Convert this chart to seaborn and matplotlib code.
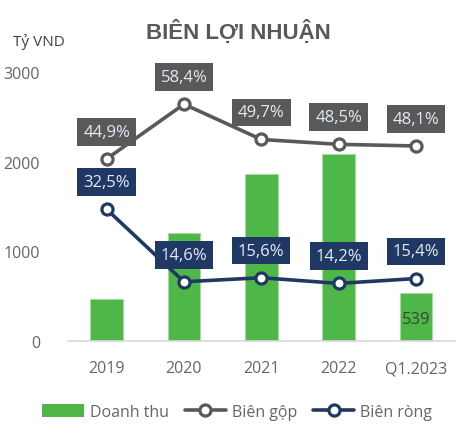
import matplotlib.pyplot as plt
import numpy as np
import pandas as pd
import seaborn as sns
from matplotlib.lines import Line2D
from matplotlib.patches import Patch

periods = ["2019", "2020", "2021", "2022", "Q1.2023"]
revenue = [470, 1200, 1860, 2090, 539]
gross_margin = [44.9, 58.4, 49.7, 48.5, 48.1]
net_margin = [32.5, 14.6, 15.6, 14.2, 15.4]

GREEN = "#4eb748"
GREY = "#595959"
NAVY = "#203864"
TEXT = "#656565"

sns.set_theme(style="white")
plt.rcParams["font.family"] = ["Open Sans", "DejaVu Sans"]

df = pd.DataFrame({
    "period": periods,
    "pos": np.arange(len(periods)),
    "revenue": revenue,
    "gross": gross_margin,
    "net": net_margin,
})

fig = plt.figure(figsize=(4.65, 4.39), dpi=100)
ax = fig.add_axes([0.146, 0.221, 0.832, 0.613])

sns.barplot(data=df, x="period", y="revenue", color=GREEN, width=0.42,
            saturation=1, edgecolor="#a8d9a3", linewidth=0.8, ax=ax)
ax.set_xlim(-0.5, len(periods) - 0.5)
ax.set_ylim(0, 3000)
ax.set_yticks([0, 1000, 2000, 3000])
ax.set_xlabel("")
ax.set_ylabel("")
ax.tick_params(axis="both", length=0, labelsize=11.5, labelcolor=TEXT)
ax.tick_params(axis="y", pad=20)
ax.tick_params(axis="x", pad=14)
for side in ["top", "right", "left"]:
    ax.spines[side].set_visible(False)
ax.spines["bottom"].set_color("#d9d9d9")
ax.spines["bottom"].set_linewidth(1.2)

# value inside the last bar
last = df.iloc[-1]
ax.text(last["pos"], last["revenue"] * 0.45, f"{last['revenue']}", ha="center",
        va="center", fontsize=12, color="#404040")

# margins on a hidden secondary axis
ax2 = ax.twinx()
ax2.set_ylim(0, 3000 / 45.2)
ax2.set_axis_off()

line_kw = dict(marker="o", markersize=8, markerfacecolor="white",
               markeredgewidth=2.3, linewidth=2.6, ax=ax2, legend=False)
sns.lineplot(data=df, x="pos", y="gross", color=GREY, markeredgecolor=GREY, **line_kw)
sns.lineplot(data=df, x="pos", y="net", color=NAVY, markeredgecolor=NAVY, **line_kw)
ax2.set_xlim(-0.5, len(periods) - 0.5)

for col, box in [("gross", GREY), ("net", NAVY)]:
    for x, v in zip(df["pos"], df[col]):
        ax2.annotate(f"{v:.1f}%".replace(".", ","), (x, v), xytext=(0, 19.5),
                     textcoords="offset points", ha="center", va="center",
                     fontsize=12, color="#e4ebf5",
                     bbox=dict(boxstyle="square,pad=0.35", fc=box, ec="none"))

fig.text(0.512, 0.927, "BIÊN LỢI NHUẬN", ha="center", va="center",
         fontsize=16, fontweight="bold", color=GREY,
         family=["Liberation Sans", "DejaVu Sans"])
fig.text(0.028, 0.904, "Tỷ VND", ha="left", va="center", fontsize=11, color="#404040")

handles = [
    Patch(facecolor=GREEN, edgecolor="none"),
    Line2D([], [], color=GREY, lw=2.6, marker="o", markersize=8,
           markerfacecolor="white", markeredgecolor=GREY, markeredgewidth=2.3),
    Line2D([], [], color=NAVY, lw=2.6, marker="o", markersize=8,
           markerfacecolor="white", markeredgecolor=NAVY, markeredgewidth=2.3),
]
fig.legend(handles, ["Doanh thu", "Biên gộp", "Biên ròng"], loc="center",
           bbox_to_anchor=(0.51, 0.059), ncol=3, frameon=False, fontsize=11.5,
           labelcolor=TEXT, handlelength=2.6, handleheight=0.9,
           handletextpad=0.35, columnspacing=1.0)

fig.savefig("out.png", dpi=100)
